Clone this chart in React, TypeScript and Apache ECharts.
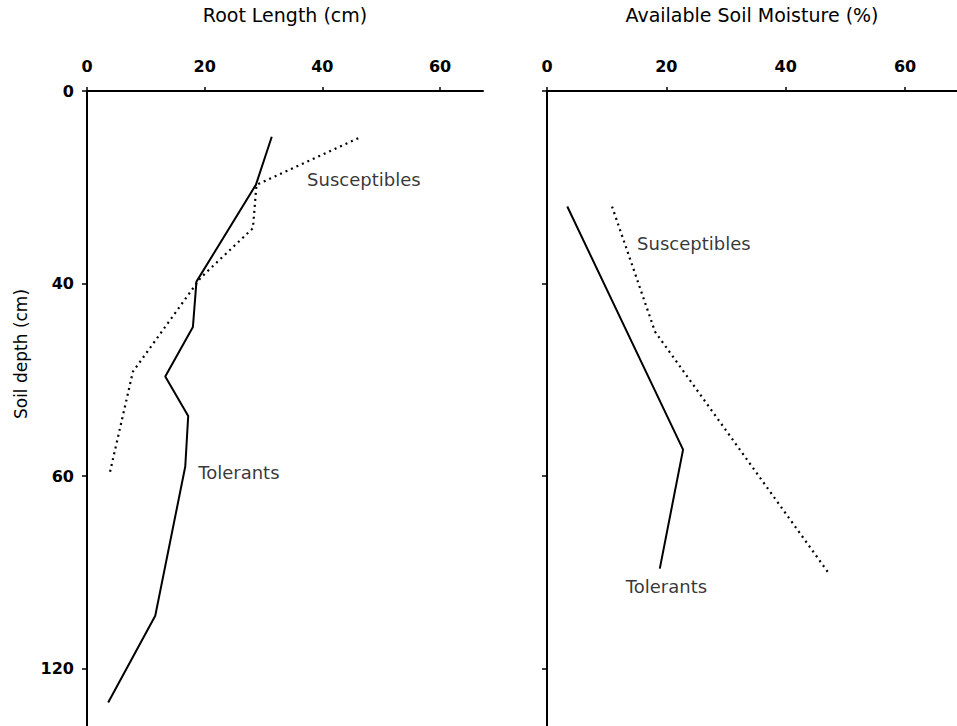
import React, { useEffect, useRef } from "react";
import * as echarts from "echarts";

// Depth (cm, drawn on a linear scale) and values
const rootTolerantDepth = [9.5, 19.5, 39.6, 49, 59.3, 67.5, 78, 109, 127];
const rootTolerantLen = [31.4, 28.7, 18.6, 18.0, 13.3, 17.2, 16.7, 11.6, 3.6];
const rootSusDepth = [9.8, 19.5, 28.5, 38.8, 58.3, 79.2];
const rootSusLen = [46.1, 28.8, 28.2, 19.3, 7.8, 3.9];

const moistTolerantDepth = [24, 74.5, 99.2];
const moistTolerantVal = [3.4, 22.8, 18.9];
const moistSusDepth = [24, 50, 100.5];
const moistSusVal = [10.9, 18.1, 47.4];

const xTicks = [0, 20, 40, 60];
const yTickValues = [0, 40, 80, 120];
const yTickLabels = ["0", "40", "60", "120"];

const leftNotes: [number, number, string][] = [
  [37.4, 18.4, "Susceptibles"],
  [18.9, 79.2, "Tolerants"],
];
const rightNotes: [number, number, string][] = [
  [15.1, 31.6, "Susceptibles"],
  [13.2, 103, "Tolerants"],
];

const INK = "#000000";
const FONT = "DejaVu Sans";

function zip(xs: number[], ys: number[]) {
  return xs.map((x, i) => [x, ys[i]]);
}

export default function App() {
  const ref = useRef<HTMLDivElement>(null);
  useEffect(() => {
    if (!ref.current) return;
    const chart = echarts.init(ref.current, undefined, { renderer: "svg" });
    const xAxisBase = (name: string, max: number, gridIndex: number) => ({
      type: "value",
      gridIndex,
      position: "top",
      min: 0,
      max,
      name,
      nameLocation: "middle",
      nameGap: 67,
      nameTextStyle: { color: INK, fontSize: 19, fontFamily: FONT },
      axisLine: { show: true, onZero: false, lineStyle: { color: INK, width: 2 } },
      axisTick: { show: true, customValues: xTicks, length: 4, lineStyle: { color: INK, width: 1.5 } },
      axisLabel: {
        customValues: xTicks,
        color: INK,
        fontSize: 16,
        fontWeight: "bold",
        fontFamily: FONT,
        margin: 17,
      },
      splitLine: { show: false },
    });
    const yAxisBase = (gridIndex: number, showLabels: boolean) => ({
      type: "value",
      gridIndex,
      inverse: true,
      min: 0,
      max: 131.9,
      axisLine: { show: true, onZero: false, lineStyle: { color: INK, width: 2 } },
      axisTick: { show: true, customValues: yTickValues, length: 5, lineStyle: { color: INK, width: 1.5 } },
      axisLabel: {
        show: showLabels,
        customValues: yTickValues,
        formatter: (v: number) => {
          const i = yTickValues.indexOf(v);
          return i >= 0 ? yTickLabels[i] : "";
        },
        color: INK,
        fontSize: 16,
        fontWeight: "bold",
        fontFamily: FONT,
        margin: 13,
      },
      splitLine: { show: false },
    });
    const solid = { color: INK, width: 2, type: "solid" };
    const dotted = { color: INK, width: 2.2, type: [2, 4] };
    const notes = (data: [number, number, string][], idx: number) => ({
      type: "scatter",
      xAxisIndex: idx,
      yAxisIndex: idx,
      symbolSize: 0,
      silent: true,
      data: data.map((d) => ({ value: [d[0], d[1]], name: d[2] })),
      label: {
        show: true,
        position: "right",
        distance: 0,
        formatter: (p: any) => p.name,
        color: INK,
        fontSize: 18,
        fontFamily: FONT,
      },
    });
    chart.setOption({
      animation: false,
      backgroundColor: "#ffffff",
      grid: [
        { left: 87, top: 83, width: 396, bottom: 0 },
        { left: 547, top: 83, width: 410, bottom: 0 },
      ],
      xAxis: [
        xAxisBase("Root Length (cm)", 67.3, 0),
        xAxisBase("Available Soil Moisture (%)", 68.7, 1),
      ],
      yAxis: [yAxisBase(0, true), yAxisBase(1, false)],
      graphic: [
        {
          type: "text",
          x: 21,
          y: 354,
          rotation: Math.PI / 2,
          style: {
            text: "Soil depth (cm)",
            fill: INK,
            font: `17px "${FONT}"`,
            align: "center",
            verticalAlign: "middle",
          },
        },
      ],
      series: [
        {
          type: "line",
          name: "Tolerants",
          xAxisIndex: 0,
          yAxisIndex: 0,
          data: zip(rootTolerantLen, rootTolerantDepth),
          symbol: "none",
          lineStyle: solid,
        },
        {
          type: "line",
          name: "Susceptibles",
          xAxisIndex: 0,
          yAxisIndex: 0,
          data: zip(rootSusLen, rootSusDepth),
          symbol: "none",
          lineStyle: dotted,
        },
        {
          type: "line",
          name: "Tolerants",
          xAxisIndex: 1,
          yAxisIndex: 1,
          data: zip(moistTolerantVal, moistTolerantDepth),
          symbol: "none",
          lineStyle: solid,
        },
        {
          type: "line",
          name: "Susceptibles",
          xAxisIndex: 1,
          yAxisIndex: 1,
          data: zip(moistSusVal, moistSusDepth),
          symbol: "none",
          lineStyle: dotted,
        },
        notes(leftNotes, 0),
        notes(rightNotes, 1),
      ],
    });
    return () => chart.dispose();
  }, []);
  return (
    <div
      ref={ref}
      style={{ position: "fixed", left: 0, top: 0, width: 957, height: 726, background: "#fff" }}
    />
  );
}
